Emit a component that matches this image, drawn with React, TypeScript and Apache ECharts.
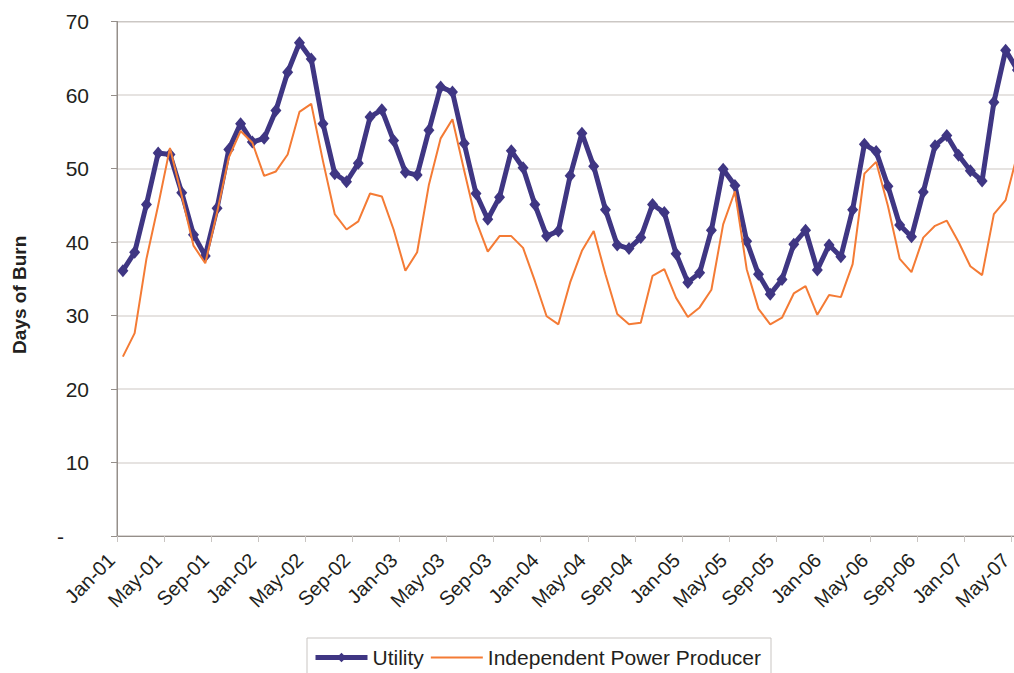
import React, { useEffect, useRef } from "react";
import * as echarts from "echarts";

const MONTH_NAMES = ["Jan", "Feb", "Mar", "Apr", "May", "Jun", "Jul", "Aug", "Sep", "Oct", "Nov", "Dec"];
const YEARS = ["01", "02", "03", "04", "05", "06", "07"];

// monthly categories Jan-01 .. May-07 (77 data points)
const categories: string[] = [];
YEARS.forEach((y) => MONTH_NAMES.forEach((m) => categories.push(`${m}-${y}`)));
const dataCategories = categories.slice(0, 77);
// boundary labels (ticks between months) Jan-01 .. Jun-07
const boundaryLabels = categories.slice(0, 78);

const utility = [
  36.1, 38.6, 45.1, 52.1, 51.9, 46.7, 41.0, 38.1, 44.6, 52.6, 56.1, 53.6,
  54.1, 57.9, 63.1, 67.1, 64.9, 56.1, 49.3, 48.2, 50.7, 57.0, 58.0, 53.8,
  49.5, 49.1, 55.2, 61.1, 60.4, 53.4, 46.6, 43.1, 46.1, 52.4, 50.1, 45.1,
  40.8, 41.5, 49.0, 54.8, 50.3, 44.4, 39.6, 39.1, 40.6, 45.1, 44.0, 38.4,
  34.5, 35.8, 41.6, 49.9, 47.7, 40.1, 35.6, 32.9, 34.9, 39.7, 41.6, 36.2,
  39.6, 38.0, 44.4, 53.3, 52.3, 47.6, 42.3, 40.7, 46.8, 53.1, 54.5, 51.8,
  49.7, 48.3, 59.0, 66.1, 63.4,
];

const ipp = [
  24.4, 27.6, 37.7, 45.0, 52.8, 46.3, 39.5, 37.1, 44.0, 51.5, 55.1, 53.5,
  49.0, 49.6, 51.9, 57.7, 58.8, 51.0, 43.8, 41.7, 42.8, 46.6, 46.2, 41.7,
  36.1, 38.6, 47.8, 54.1, 56.7, 49.7, 42.9, 38.7, 40.8, 40.8, 39.2, 34.7,
  29.9, 28.8, 34.5, 38.8, 41.5, 35.6, 30.2, 28.8, 29.0, 35.4, 36.3, 32.4,
  29.8, 31.1, 33.5, 42.4, 46.9, 36.3, 30.9, 28.8, 29.7, 33.0, 34.0, 30.1,
  32.8, 32.5, 37.0, 49.3, 50.9, 44.9, 37.7, 35.9, 40.6, 42.2, 42.9, 40.0,
  36.7, 35.5, 43.8, 45.7, 52.0,
];

const FONT = "'Liberation Sans', Arial, Helvetica, sans-serif";
const AXIS_COLOR = "#958f8a";
const GRID_COLOR = "#dedad7";
const TEXT_COLOR = "#231f20";
const UTIL_COLOR = "#3f3683";
const IPP_COLOR = "#f47b35";

export default function App() {
  const ref = useRef<HTMLDivElement>(null);

  useEffect(() => {
    if (!ref.current) return;
    const chart = echarts.init(ref.current, undefined, { renderer: "svg" });
    chart.setOption({
      animation: false,
      backgroundColor: "#ffffff",
      textStyle: { fontFamily: FONT },
      grid: {
        left: 117,
        top: 21.5,
        width: 906.3,
        bottom: 137,
        show: true,
        borderColor: AXIS_COLOR,
        borderWidth: 1,
        containLabel: false,
      },
      legend: {
        left: 307,
        top: 638,
        orient: "horizontal",
        borderColor: "#c9c5c2",
        borderWidth: 1,
        padding: [9, 10, 12, 6],
        itemWidth: 52,
        itemHeight: 12,
        itemGap: 6,
        textStyle: { fontSize: 21, color: TEXT_COLOR, fontFamily: FONT },
        data: [
          { name: "Utility", lineStyle: { width: 5, color: UTIL_COLOR } },
          {
            name: "Independent Power Producer",
            itemStyle: { opacity: 0 },
            lineStyle: { width: 2, color: IPP_COLOR },
          },
        ],
      },
      xAxis: [
        {
          type: "category",
          data: dataCategories,
          boundaryGap: true,
          axisLine: { show: true, lineStyle: { color: AXIS_COLOR, width: 1 } },
          axisTick: { show: false },
          axisLabel: { show: false },
          splitLine: { show: false },
        },
        {
          type: "category",
          data: boundaryLabels,
          boundaryGap: false,
          position: "bottom",
          axisLine: { show: false },
          axisTick: { show: true, interval: 3, length: 6, lineStyle: { color: "#c9c5c2" } },
          axisLabel: {
            show: true,
            interval: 3,
            rotate: 45,
            margin: 15,
            padding: [0, 8, 0, 0],
            fontSize: 20,
            color: TEXT_COLOR,
            fontFamily: FONT,
          },
          splitLine: { show: false },
        },
      ],
      yAxis: {
        type: "value",
        min: 0,
        max: 70,
        interval: 10,
        name: "Days of Burn",
        nameLocation: "middle",
        nameGap: 88,
        nameRotate: 90,
        nameTextStyle: {
          fontSize: 19,
          fontWeight: "bold",
          color: TEXT_COLOR,
          fontFamily: FONT,
          padding: [0, 32, 0, 0],
        },
        axisLine: { show: true, lineStyle: { color: AXIS_COLOR, width: 1 } },
        axisTick: { show: true, length: 6, lineStyle: { color: AXIS_COLOR } },
        axisLabel: {
          margin: 28,
          fontSize: 21,
          color: TEXT_COLOR,
          fontFamily: FONT,
          formatter: (v: number) => (v === 0 ? "{d|-}" : String(v)),
          rich: { d: { fontSize: 21, color: TEXT_COLOR, padding: [0, 25, 0, 0] } },
        },
        splitLine: { show: true, lineStyle: { color: GRID_COLOR, width: 1.5 } },
      },
      series: [
        {
          name: "Utility",
          type: "line",
          xAxisIndex: 0,
          data: utility,
          symbol: "diamond",
          symbolSize: [11, 13],
          showSymbol: true,
          showAllSymbol: true,
          lineStyle: { color: UTIL_COLOR, width: 5 },
          itemStyle: { color: UTIL_COLOR },
          z: 2,
        },
        {
          name: "Independent Power Producer",
          type: "line",
          xAxisIndex: 0,
          data: ipp,
          symbol: "none",
          lineStyle: { color: IPP_COLOR, width: 2 },
          itemStyle: { color: IPP_COLOR },
          z: 3,
        },
      ],
    });
    return () => chart.dispose();
  }, []);

  return (
    <div
      style={{
        position: "absolute",
        left: 0,
        top: 0,
        width: 1014,
        height: 673,
        overflow: "hidden",
        background: "#ffffff",
      }}
    >
      <div ref={ref} style={{ width: 1040, height: 673 }} />
    </div>
  );
}
